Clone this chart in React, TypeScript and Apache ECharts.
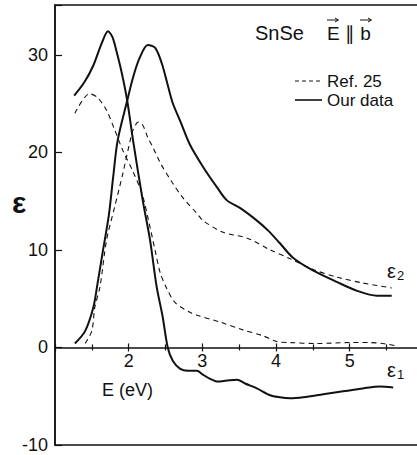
import React, { useEffect, useRef } from "react";
import * as echarts from "echarts";

// Tick labels
const xTickLabels = [2, 3, 4, 5];
const yTickLabels = [-10, 0, 10, 20, 30];

// "Our data" — epsilon 1
const ourEps1X = [1.26, 1.4, 1.52, 1.64, 1.72, 1.78, 1.84, 1.91, 1.98, 2.06, 2.19, 2.29, 2.38, 2.46, 2.53, 2.6, 2.7, 2.8, 2.93, 2.99, 3.1, 3.21, 3.33, 3.47, 3.58, 3.74, 3.92, 4.05, 4.19, 4.37, 4.64, 4.91, 5.18, 5.41, 5.59];
const ourEps1Y = [25.8, 27.2, 28.9, 31.3, 32.4, 31.8, 30.2, 28.0, 25.3, 21.2, 15.1, 11.0, 6.2, 3.2, 0.0, -1.4, -2.2, -2.4, -2.4, -2.7, -3.2, -3.5, -3.4, -3.3, -3.7, -4.2, -4.9, -5.1, -5.2, -5.1, -4.8, -4.5, -4.2, -4.0, -4.1];

// "Our data" — epsilon 2
const ourEps2X = [1.27, 1.41, 1.52, 1.57, 1.65, 1.73, 1.79, 1.85, 1.98, 2.06, 2.15, 2.26, 2.36, 2.45, 2.53, 2.6, 2.7, 2.83, 3.01, 3.2, 3.33, 3.51, 3.74, 3.89, 4.05, 4.23, 4.5, 4.83, 5.1, 5.37, 5.57];
const ourEps2Y = [0.4, 1.7, 4.1, 6.2, 9.9, 13.5, 17.5, 21.2, 25.3, 27.7, 29.7, 31.0, 30.7, 29.1, 26.9, 25.0, 23.2, 20.8, 18.5, 16.4, 15.1, 14.3, 13.0, 12.0, 10.7, 9.2, 7.9, 6.7, 5.8, 5.3, 5.3];

// Ref. 25 — epsilon 1
const refEps1X = [1.27, 1.47, 1.58, 1.7, 1.81, 1.92, 2.06, 2.18, 2.27, 2.36, 2.43, 2.52, 2.63, 2.83, 2.93, 3.24, 3.55, 3.82, 4.01, 4.19, 4.55, 5.0, 5.27, 5.45, 5.61];
const refEps1Y = [24.0, 26.0, 25.6, 24.3, 22.3, 20.2, 18.0, 15.8, 13.0, 9.9, 7.6, 6.0, 4.6, 3.6, 3.3, 2.6, 1.8, 1.2, 0.6, 0.5, 0.4, 0.5, 0.5, 0.4, 0.2];

// Ref. 25 — epsilon 2
const refEps2X = [1.41, 1.5, 1.54, 1.61, 1.7, 1.81, 1.92, 2.02, 2.06, 2.13, 2.19, 2.26, 2.33, 2.43, 2.6, 2.74, 2.93, 3.01, 3.28, 3.61, 3.92, 4.19, 4.5, 4.83, 5.18, 5.57];
const refEps2Y = [0.4, 1.7, 4.1, 6.2, 11.0, 14.4, 17.8, 21.2, 22.3, 23.1, 22.8, 21.5, 20.5, 18.9, 16.8, 15.3, 13.7, 13.0, 11.8, 11.2, 10.0, 9.1, 8.0, 7.2, 6.6, 6.1];

const zip = (xs: number[], ys: number[]) => xs.map((x, i) => [x, ys[i]]);

export default function App() {
  const ref = useRef<HTMLDivElement>(null);

  useEffect(() => {
    if (!ref.current) return;
    const chart = echarts.init(ref.current, null, { renderer: "svg" });
    const ink = "#111";
    const font = "Liberation Sans";

    const gridTop = 5;
    const gridHeight = 440;
    const yMin = -10;
    const yMax = 35.1;
    // pixel row of value 0 inside the grid (for placing the x axis on zero)
    const zeroFromBottom = ((0 - yMin) / (yMax - yMin)) * gridHeight;
    const zeroFromTop = gridHeight - zeroFromBottom;

    const tickStyle = { color: ink, width: 1.2 };
    const solid = { color: ink, width: 2, type: "solid" as const };
    const dashed = { color: ink, width: 1.1, type: [5, 4] as any };

    const mkSeries = (name: string, data: number[][], ls: any) => ({
      name,
      type: "line",
      data,
      showSymbol: false,
      symbol: "none",
      smooth: 0.3,
      lineStyle: ls,
      xAxisIndex: 0,
      yAxisIndex: 0,
    });

    const option: any = {
      animation: false,
      backgroundColor: "#ffffff",
      grid: {
        left: 55,
        top: gridTop,
        width: 368.4,
        height: gridHeight,
        show: true,
        borderColor: ink,
        borderWidth: 1.5,
        backgroundColor: "transparent",
        containLabel: false,
        outerBoundsMode: "none",
      },
      xAxis: [
        {
          type: "value",
          min: 1,
          max: 6,
          interval: 1,
          position: "bottom",
          offset: -zeroFromBottom,
          axisLine: { show: true, onZero: false, lineStyle: { color: ink, width: 1.5 } },
          axisTick: { show: true, inside: false, length: 4, lineStyle: tickStyle },
          minorTick: { show: true, splitNumber: 2, length: 3, lineStyle: tickStyle },
          splitLine: { show: false },
          minorSplitLine: { show: false },
          axisLabel: {
            show: true,
            margin: 5,
            fontSize: 18,
            fontFamily: font,
            color: ink,
            formatter: (v: number) => (xTickLabels.includes(v) ? String(v) : ""),
          },
        },
        {
          type: "value",
          min: 1,
          max: 6,
          interval: 1,
          position: "top",
          offset: -zeroFromTop,
          axisLine: { show: false, onZero: false },
          axisTick: { show: true, inside: false, length: 4, lineStyle: tickStyle },
          minorTick: { show: true, splitNumber: 2, length: 3, lineStyle: tickStyle },
          splitLine: { show: false },
          minorSplitLine: { show: false },
          axisLabel: { show: false },
        },
      ],
      yAxis: {
        type: "value",
        min: yMin,
        max: yMax,
        interval: 10,
        axisLine: { show: true, onZero: false, lineStyle: { color: ink, width: 1.5 } },
        axisTick: { show: true, inside: true, length: 7, lineStyle: tickStyle },
        splitLine: { show: false },
        axisLabel: {
          margin: 7,
          fontSize: 18,
          fontFamily: font,
          color: ink,
          formatter: (v: number) => (yTickLabels.includes(v) ? String(v) : ""),
        },
      },
      series: [
        mkSeries("Our data ε1", zip(ourEps1X, ourEps1Y), solid),
        mkSeries("Our data ε2", zip(ourEps2X, ourEps2Y), solid),
        mkSeries("Ref. 25 ε1", zip(refEps1X, refEps1Y), dashed),
        mkSeries("Ref. 25 ε2", zip(refEps2X, refEps2Y), dashed),
      ],
      graphic: [
        {
          type: "text",
          x: 19,
          y: 202,
          style: { text: "ε", fontSize: 30, fontWeight: "bold", fontFamily: font, fill: ink, textAlign: "center", textVerticalAlign: "middle" },
        },
        {
          type: "text",
          x: 102,
          y: 390,
          style: { text: "E (eV)", fontSize: 18, fontFamily: font, fill: ink, textAlign: "left", textVerticalAlign: "middle" },
        },
        {
          type: "text",
          x: 387,
          y: 370,
          style: {
            text: "{e|ε}{s|1}",
            fontFamily: font,
            fill: ink,
            textAlign: "left",
            textVerticalAlign: "middle",
            rich: {
              e: { fontSize: 20, fontFamily: font, fill: ink, lineHeight: 22 },
              s: { fontSize: 13, fontFamily: font, fill: ink, lineHeight: 22, verticalAlign: "bottom", padding: [6, 0, 0, 1] },
            },
          },
        },
        {
          type: "text",
          x: 387,
          y: 271,
          style: {
            text: "{e|ε}{s|2}",
            fontFamily: font,
            fill: ink,
            textAlign: "left",
            textVerticalAlign: "middle",
            rich: {
              e: { fontSize: 20, fontFamily: font, fill: ink, lineHeight: 22 },
              s: { fontSize: 13, fontFamily: font, fill: ink, lineHeight: 22, verticalAlign: "bottom", padding: [6, 0, 0, 1] },
            },
          },
        },
        {
          type: "text",
          x: 255,
          y: 33,
          style: { text: "SnSe", fontSize: 20, fontFamily: font, fill: ink, textAlign: "left", textVerticalAlign: "middle" },
        },
        {
          type: "text",
          x: 327,
          y: 33,
          style: { text: "E ∥ b", fontSize: 19, fontFamily: font, fill: ink, textAlign: "left", textVerticalAlign: "middle" },
        },
        { type: "line", shape: { x1: 327, y1: 20, x2: 338, y2: 20 }, style: { stroke: ink, lineWidth: 1 } },
        { type: "polyline", shape: { points: [[335, 18], [338.5, 20], [335, 22]] }, style: { stroke: ink, lineWidth: 1, fill: "none" } },
        { type: "line", shape: { x1: 360, y1: 20, x2: 371, y2: 20 }, style: { stroke: ink, lineWidth: 1 } },
        { type: "polyline", shape: { points: [[368, 18], [371.5, 20], [368, 22]] }, style: { stroke: ink, lineWidth: 1, fill: "none" } },
        { type: "line", shape: { x1: 295, y1: 81, x2: 322, y2: 81 }, style: { stroke: ink, lineWidth: 1.1, lineDash: [4, 3] } },
        {
          type: "text",
          x: 327,
          y: 81,
          style: { text: "Ref. 25", fontSize: 17, fontFamily: font, fill: ink, textAlign: "left", textVerticalAlign: "middle" },
        },
        { type: "line", shape: { x1: 295, y1: 100, x2: 322, y2: 100 }, style: { stroke: ink, lineWidth: 1.6 } },
        {
          type: "text",
          x: 327,
          y: 100,
          style: { text: "Our data", fontSize: 17, fontFamily: font, fill: ink, textAlign: "left", textVerticalAlign: "middle" },
        },
      ],
    };

    chart.setOption(option);
    return () => {
      chart.dispose();
    };
  }, []);

  return (
    <div
      ref={ref}
      style={{ position: "absolute", left: 0, top: 0, width: 417, height: 455, background: "#fff" }}
    />
  );
}
